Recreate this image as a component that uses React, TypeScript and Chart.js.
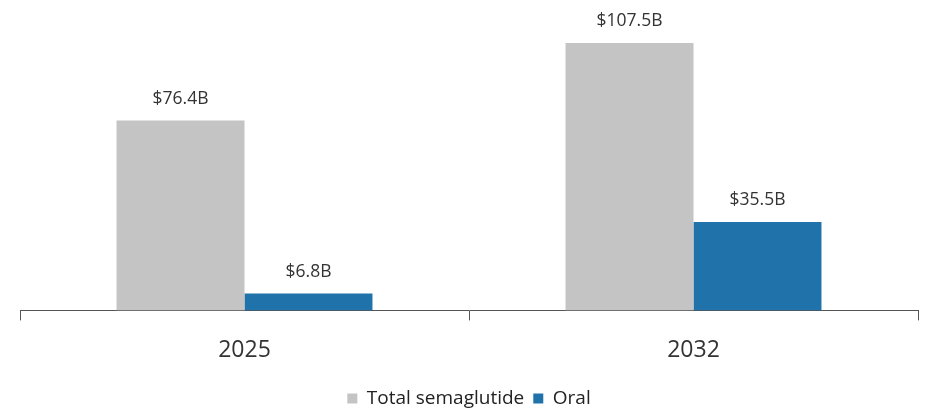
import React, { useEffect, useRef } from "react";
import { Chart, registerables } from "chart.js";

Chart.register(...registerables);

const categories = ["2025", "2032"];
const totalSemaglutide = [76.4, 107.5];
const oral = [6.8, 35.5];
const seriesNames = ["Total semaglutide", "Oral"];
const valueLabels = [
  ["$76.4B", "$107.5B"],
  ["$6.8B", "$35.5B"],
];

const FONT = "'Open Sans', 'Noto Sans', sans-serif";

const valueLabelPlugin = {
  id: "valueLabels",
  afterDatasetsDraw(chart: any) {
    const ctx = chart.ctx;
    ctx.save();
    ctx.font = `17.5px ${FONT}`;
    ctx.fillStyle = "#333333";
    ctx.textAlign = "center";
    ctx.textBaseline = "bottom";
    chart.data.datasets.forEach((_ds: any, di: number) => {
      const meta = chart.getDatasetMeta(di);
      meta.data.forEach((el: any, i: number) => {
        ctx.fillText(valueLabels[di][i], el.x, el.y - 13);
      });
    });
    ctx.restore();
  },
};

export default function App() {
  const ref = useRef<HTMLCanvasElement | null>(null);
  useEffect(() => {
    if (!ref.current) return;
    const chart = new Chart(ref.current, {
      type: "bar",
      data: {
        labels: categories,
        datasets: [
          {
            label: seriesNames[0],
            data: totalSemaglutide,
            backgroundColor: "#c4c4c4",
            borderWidth: 0,
            categoryPercentage: 0.57,
            barPercentage: 1.0,
          },
          {
            label: seriesNames[1],
            data: oral,
            backgroundColor: "#1f73aa",
            borderWidth: 0,
            categoryPercentage: 0.57,
            barPercentage: 1.0,
          },
        ],
      },
      options: {
        animation: false,
        responsive: false,
        maintainAspectRatio: false,
        layout: { padding: { left: 20, right: 12, top: 12, bottom: 0 } },
        scales: {
          x: {
            grid: {
              drawOnChartArea: false,
              drawTicks: true,
              tickLength: 10,
              color: "#555555",
              offset: true,
            },
            border: { display: true, color: "#555555", width: 1 },
            ticks: {
              color: "#333333",
              font: { family: FONT, size: 23 },
              padding: 16,
            },
          },
          y: {
            display: false,
            min: 0,
            max: 120,
          },
        },
        plugins: {
          legend: {
            position: "bottom",
            labels: {
              boxWidth: 10,
              boxHeight: 10,
              padding: 9,
              color: "#222222",
              font: { family: FONT, size: 19 },
            },
          },
          tooltip: { enabled: false },
        },
      },
      plugins: [valueLabelPlugin],
    });
    return () => chart.destroy();
  }, []);
  return (
    <div
      style={{
        position: "absolute",
        left: 0,
        top: 0,
        width: 930,
        height: 409,
        overflow: "hidden",
        background: "#fff",
      }}
    >
      <canvas ref={ref} width={930} height={418} />
    </div>
  );
}
